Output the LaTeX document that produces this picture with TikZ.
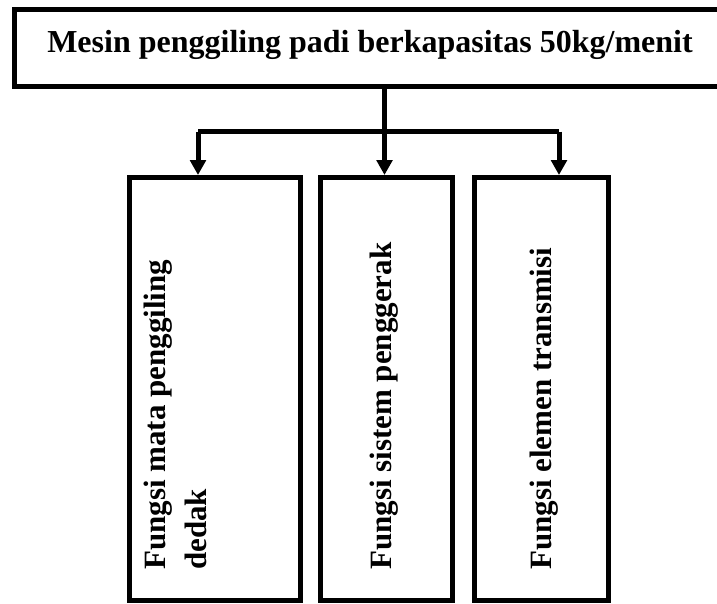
\documentclass[tikz,border=0pt]{standalone}
\usepackage{fontspec}
\setmainfont{Liberation Serif}
\usetikzlibrary{arrows.meta}
\begin{document}
\begin{tikzpicture}[x=1pt,y=-1pt,
  box/.style={draw, line width=5pt, inner sep=0pt, minimum height=#1},
  label text/.style={font=\fontsize{32}{41.6}\selectfont\bfseries, inner sep=0pt},
  side text/.style={font=\fontsize{31}{41.6}\selectfont\bfseries, inner sep=0pt,
    rotate=90, anchor=base west, align=left},
  link/.style={line width=5pt},
  arrowlink/.style={link, -{Triangle[length=15pt,width=15.6pt]}}]
\clip (0,0) rectangle (717,603);
\fill[white] (0,0) rectangle (717,603);

% main block, its right edge runs past the page
\node[box=77.5pt, minimum width=712pt] (top) at (370,47.75) {};
\node[label text, anchor=base] (toptext) at (370,52) {Mesin penggiling padi berkapasitas 50kg/menit};

% three function blocks
\node[box=422.5pt, minimum width=171.5pt] (f1) at (214.75,388.75) {};
\node[box=422.5pt, minimum width=132.5pt] (f2) at (386.25,388.75) {};
\node[box=422.5pt, minimum width=134.2pt] (f3) at (541.6,388.75) {};

\node[side text] (t1) at (206.7,570) {Fungsi mata penggiling\\dedak};
\node[side text] (t2) at (391.7,570) {Fungsi sistem penggerak};
\node[side text] (t3) at (551.7,570) {Fungsi elemen transmisi};

% branching connectors
\coordinate (split) at (384.5,131.5);
\draw[link] (top.south -| split) -- (split);
\draw[link] (198,131.5) -- (559,131.5);
\draw[arrowlink] (split) -- (split |- f2.north);
\draw[arrowlink] (198,131.5) -- ([xshift=-16.75pt]f1.north);
\draw[arrowlink] (559,131.5) -- ([xshift=17.4pt]f3.north);
\end{tikzpicture}
\end{document}
